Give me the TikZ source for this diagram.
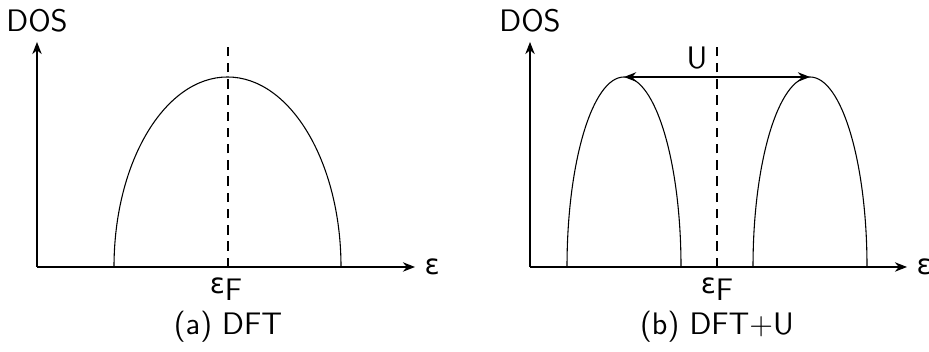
\documentclass[tikz,border=0pt]{standalone}
\usepackage{fontspec}
\newfontfamily\grkfont{DejaVu Sans}[Scale=0.9]
\usetikzlibrary{arrows.meta, positioning}

\newcommand{\eps}{{\grkfont ε}}
\newcommand{\epsF}{\eps\raisebox{-0.55ex}{F}}

\begin{document}
\begin{tikzpicture}[
  x=0.013cm, y=0.013cm,
  every node/.style={font=\sffamily\fontsize{11.5}{14}\selectfont},
  axis/.style={-{Stealth[length=4.5pt, width=3.5pt]}},
  fermi/.style={dash pattern=on 3.5pt off 2.5pt},
  gaparrow/.style={{Stealth[length=4.5pt, width=3.5pt]}-{Stealth[length=4.5pt, width=3.5pt]}},
]
\useasboundingbox (0,0) rectangle (929,352);

% (a) DFT
\coordinate (oa) at (37,85);
\coordinate (ya) at (37,310);
\coordinate (xa) at (415,85);
\coordinate (fta) at (228,312);
\coordinate (fba) at (228,85);
\draw[axis] (oa) -- (ya);
\draw[axis] (oa) -- (xa);
\draw[fermi] (fba) -- (fta);
\draw (114,85) arc[start angle=180, end angle=0, x radius=113.5, y radius=190];
\node[above=0pt of ya] (dosa) {DOS};
\node[right=0pt of xa] (epsa) {\eps};
\node (efa) at (226,63) {\epsF};
\node (capa) at (228,25) {(a) DFT};

% (b) DFT+U
\coordinate (ob) at (530,85);
\coordinate (yb) at (530,310);
\coordinate (xb) at (907,85);
\coordinate (ftb) at (717,312);
\coordinate (fbb) at (717,85);
\coordinate (pkl) at (624,275);
\coordinate (pkr) at (810,275);
\draw[axis] (ob) -- (yb);
\draw[axis] (ob) -- (xb);
\draw[fermi] (fbb) -- (ftb);
\draw (567,85) arc[start angle=180, end angle=0, x radius=57, y radius=190];
\draw (753,85) arc[start angle=180, end angle=0, x radius=57, y radius=190];
\draw[gaparrow] (pkl) -- (pkr);
\node (ulab) at (697,294) {U};
\node[above=0pt of yb] (dosb) {DOS};
\node[right=0pt of xb] (epsb) {\eps};
\node (efb) at (717,63) {\epsF};
\node (capb) at (717,25) {(b) DFT+U};
\end{tikzpicture}
\end{document}
